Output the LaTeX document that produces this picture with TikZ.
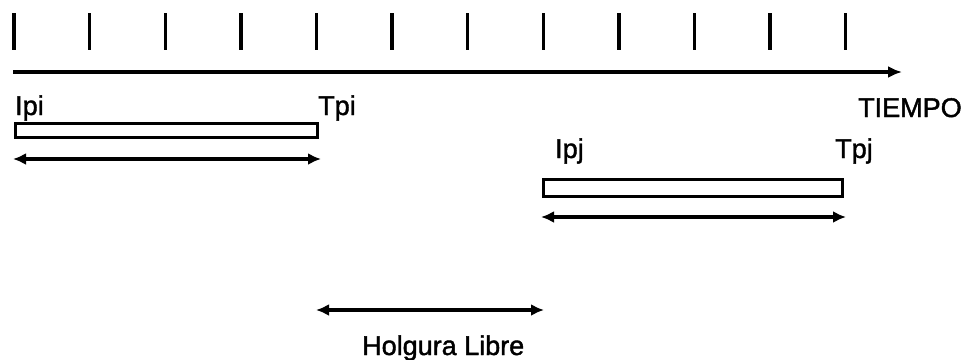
\documentclass[tikz,border=0pt]{standalone}
\usepackage{fontspec}
\setmainfont{Liberation Sans}
\usetikzlibrary{arrows.meta}
\begin{document}
\begin{tikzpicture}[x=1pt,y=-1pt,
  lbl/.style={anchor=base west,inner sep=0pt,font=\fontsize{27}{27}\selectfont\addfontfeature{FakeBold=1.5}},
  bar/.style={draw,line width=3.2pt},
  tick/.style={line width=3.4pt},
  dbl/.style={line width=3.4pt,{Latex[length=13pt,width=12pt]}-{Latex[length=13pt,width=12pt]}}]
\useasboundingbox (0,0) rectangle (966,359);
% ticks
\foreach \i in {0,...,11}{
  \draw[tick] (14+75.6*\i,13) -- (14+75.6*\i,50);
}
% time axis
\coordinate (a0) at (13,72);
\coordinate (a1) at (902,72);
\draw[line width=3.2pt,-{Latex[length=14pt,width=12pt]}] (a0) -- (a1);
% labels
\node[lbl] (ipi) at (15,115) {Ipi};
\node[lbl] (tpi) at (318,115) {Tpi};
\node[lbl] (tiempo) at (858,117) {TIEMPO};
\node[lbl] (ipj) at (555,158) {Ipj};
\node[lbl] (tpj) at (835,158) {Tpj};
\node[lbl] (hl) at (362,355) {Holgura Libre};
% bars
\node[bar,minimum width=302pt,minimum height=14pt,inner sep=0pt,anchor=north west] (b1) at (14,122) {};
\node[bar,minimum width=299pt,minimum height=17pt,inner sep=0pt,anchor=north west] (b2) at (542,178) {};
% durations
\coordinate (d1a) at (13,159);
\coordinate (d1b) at (321,159);
\draw[dbl] (d1a) -- (d1b);
\coordinate (d2a) at (541,217);
\coordinate (d2b) at (846,217);
\draw[dbl] (d2a) -- (d2b);
\coordinate (h1) at (316,310);
\coordinate (h2) at (544,310);
\draw[dbl] (h1) -- (h2);
\end{tikzpicture}
\end{document}
